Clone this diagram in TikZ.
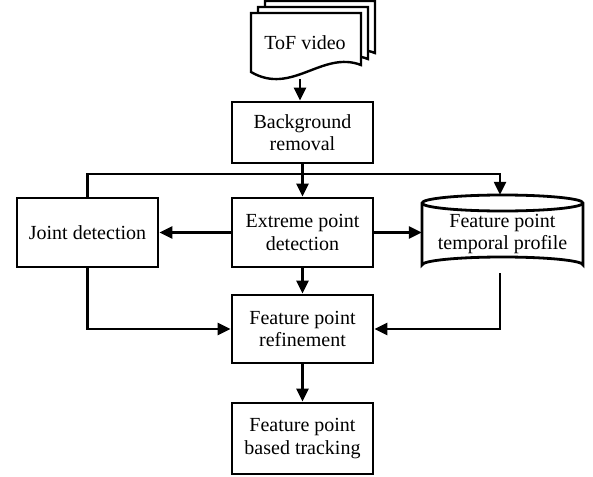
\documentclass[tikz,border=0pt]{standalone}
\usepackage{fontspec}
\setmainfont{Liberation Serif}
\usetikzlibrary{arrows.meta}
\begin{document}
\begin{tikzpicture}[x=1pt,y=-1pt,
  lbl/.style={font=\fontsize{20}{22.5}\selectfont, align=center},
  procbox/.style={lbl, draw, line width=2.8pt, minimum width=141pt, inner sep=0pt},
  conn/.style={line width=2.4pt},
  arr/.style={conn, -{Triangle[length=13pt,width=12pt]}},
  docsheet/.style={draw, fill=white, line width=2.4pt, line join=miter}
]
\useasboundingbox[fill=white] (0,0) rectangle (593,476);

% stacked documents: back sheets first
\foreach \dx/\dy in {14/-12, 7/-6, 0/0}{
  \begin{scope}[shift={(\dx,\dy)}]
    \draw[docsheet] (251,13) -- (361,13) -- (361,65)
      .. controls (322,50) and (292,96) .. (251,72) -- cycle;
  \end{scope}
}
\node[lbl] (video) at (305,43) {ToF video};
\coordinate (videoout) at (300,79);

% process boxes
\node[procbox, minimum height=61pt] (bg) at (302.5,132.5) {Background\\removal};
\node[procbox, minimum height=69pt] (extreme) at (302.5,232.5) {Extreme point\\detection};
\node[procbox, minimum height=69pt] (joint) at (87.5,232.5) {Joint detection};
\node[procbox, minimum height=68pt] (refine) at (302.5,329) {Feature point\\refinement};
\node[procbox, minimum height=71pt] (track) at (302.5,438.5) {Feature point\\based tracking};

% storage cylinder
\draw[line width=2.8pt, fill=white]
  (422,203) -- (422,265) arc[start angle=180, end angle=360, x radius=80.5, y radius=8]
  -- (583,203) arc[start angle=0, end angle=-180, x radius=80.5, y radius=8] -- cycle;
\draw[line width=2.8pt] (583,203) arc[start angle=0, end angle=180, x radius=80.5, y radius=8];
\node[lbl, minimum width=161pt, minimum height=78pt, inner sep=0pt] (profile) at (502.5,234)
  {Feature point\\temporal profile};

% connectors
\coordinate (bus) at (302.5,174);
\draw[arr] (videoout) -- (bg.north -| videoout);
\draw[arr] (bg.south) -- (extreme.north);
\draw[arr] (joint.north) |- (bus) -| ([xshift=-2.5pt]profile.north);
\draw[arr] (extreme.west) -- (joint.east);
\draw[arr] (extreme.east) -- (profile.west |- extreme.east);
\draw[arr] (extreme.south) -- (refine.north);
\draw[arr] (joint.south) |- (refine.west);
\draw[arr] ([xshift=-2.5pt]profile.south) |- (refine.east);
\draw[arr] (refine.south) -- (track.north);
\end{tikzpicture}
\end{document}
